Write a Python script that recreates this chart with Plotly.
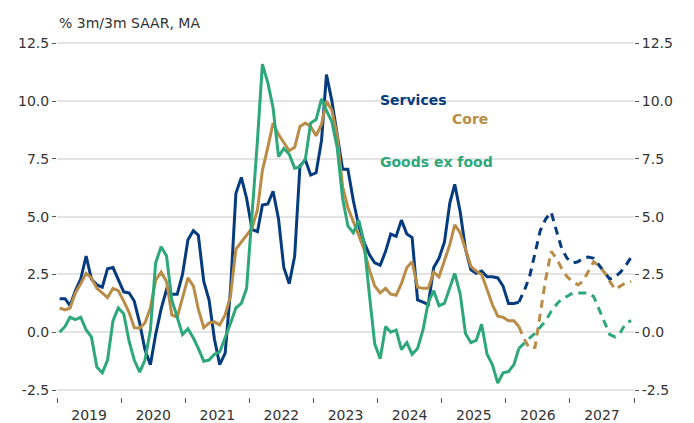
import pandas as pd
import plotly.graph_objects as go

# Monthly data, Jan 2019 .. Mar 2026 (actual), Apr 2026 .. Dec 2027 (forecast)
services_actual = [1.45, 1.45, 1.15, 1.8, 2.3, 3.3, 2.3, 2.05, 1.95, 2.75, 2.8, 2.3,
                   1.75, 1.7, 1.35, 0.4, -0.75, -1.4, -0.1, 1.0, 1.85, 1.65, 1.65, 2.5,
                   4.0, 4.4, 4.2, 2.2, 1.4, -0.3, -1.4, -0.9, 1.9, 6.0, 6.7, 5.8,
                   4.45, 4.35, 5.5, 5.55, 6.1, 4.9, 2.8, 2.1, 3.3, 7.2, 7.45, 6.8,
                   6.9, 8.3, 11.15, 10.0, 8.6, 7.05, 7.05, 5.7, 4.6, 3.9, 3.35, 3.0,
                   2.9, 3.5, 4.25, 4.15, 4.85, 4.25, 4.1, 1.4, 1.3, 1.2, 2.8, 3.2,
                   3.9, 5.6, 6.4, 5.2, 3.6, 2.7, 2.55, 2.65, 2.4, 2.4, 2.35, 2.0,
                   1.25, 1.25, 1.3]
services_forecast = [1.8, 2.4, 3.4, 4.4, 4.9, 5.2, 4.4, 3.6, 3.2, 3.0, 3.05, 3.2,
                     3.25, 3.2, 2.9, 2.6, 2.3, 2.4, 2.6, 2.9, 3.25]

core_actual = [1.05, 0.97, 1.05, 1.7, 2.1, 2.55, 2.35, 1.9, 1.7, 1.5, 1.9, 1.8,
               1.35, 0.85, 0.2, 0.18, 0.4, 1.05, 2.25, 2.6, 2.2, 0.75, 0.65, 1.5,
               2.35, 2.0, 1.0, 0.2, 0.4, 0.45, 0.32, 0.75, 1.6, 3.6, 3.9, 4.15,
               4.5, 5.3, 7.0, 8.0, 9.05, 8.55, 8.2, 7.85, 8.0, 8.9, 9.05, 8.9,
               8.5, 9.0, 10.0, 9.6, 8.5, 6.3, 5.4, 4.8, 4.2, 3.6, 2.7, 2.0,
               1.7, 1.9, 1.65, 1.6, 2.1, 2.8, 3.05, 1.95, 1.9, 1.9, 2.6, 2.4,
               3.1, 3.8, 4.65, 4.3, 3.6, 2.85, 2.65, 2.5, 1.85, 1.2, 0.7, 0.65,
               0.5, 0.5, 0.25]
core_forecast = [-0.3, -0.7, -0.65, 0.8, 2.3, 3.5, 3.2, 2.75, 2.4, 2.2, 2.05, 2.2,
                 2.6, 3.05, 2.85, 2.6, 2.2, 1.85, 2.0, 2.15, 2.2]

goods_actual = [0.0, 0.25, 0.65, 0.55, 0.65, 0.1, -0.2, -1.5, -1.75, -1.2, 0.5, 1.05,
                0.8, -0.4, -1.2, -1.72, -1.2, 0.1, 3.0, 3.7, 3.3, 1.4, 0.65, -0.1,
                0.15, -0.25, -0.7, -1.25, -1.2, -0.95, -0.85, -0.25, 0.4, 1.05, 1.25, 1.9,
                5.0, 8.3, 11.6, 10.8, 9.7, 7.6, 7.95, 7.7, 7.1, 7.15, 7.5, 9.05,
                9.2, 10.1, 9.6, 9.1, 8.0, 5.8, 4.6, 4.3, 4.85, 3.9, 1.6, -0.5,
                -1.15, 0.25, 0.0, 0.1, -0.75, -0.45, -0.95, -0.7, 0.1, 1.3, 1.8, 1.15,
                1.25, 1.9, 2.55, 1.65, -0.05, -0.45, -0.35, 0.35, -0.95, -1.4, -2.2, -1.75,
                -1.7, -1.4, -0.7]
goods_forecast = [-0.45, -0.25, -0.05, 0.2, 0.5, 0.9, 1.2, 1.45, 1.55, 1.7, 1.7, 1.7,
                  1.7, 1.55, 1.0, 0.4, -0.1, -0.2, 0.0, 0.4, 0.5]

y_ticks = [-2.5, 0.0, 2.5, 5.0, 7.5, 10.0, 12.5]

n_act = len(services_actual)
n_fc = len(services_forecast)
dates = pd.date_range("2019-01-01", periods=n_act + n_fc, freq="MS") + pd.Timedelta(days=15)
d_act = dates[:n_act]
d_fc = dates[n_act - 1:]

NAVY = "#063b7e"
TAN = "#b98c47"
GREEN = "#2ea77a"
FONT = "DejaVu Sans, Arial, sans-serif"
TXT = "#333333"

fig = go.Figure()
series = [
    ("Services", services_actual, services_forecast, NAVY),
    ("Core", core_actual, core_forecast, TAN),
    ("Goods ex food", goods_actual, goods_forecast, GREEN),
]
for name, act, fc, col in series:
    fig.add_trace(go.Scatter(x=d_act, y=act, mode="lines", name=name,
                             line=dict(color=col, width=3), showlegend=False))
    fig.add_trace(go.Scatter(x=d_fc, y=[act[-1]] + fc, mode="lines", name=name + " forecast",
                             line=dict(color=col, width=3, dash="8px,6px"), showlegend=False))

# invisible trace for the right axis
fig.add_trace(go.Scatter(x=[dates[0]], y=[0], yaxis="y2", mode="markers",
                         marker=dict(opacity=0), showlegend=False, hoverinfo="skip"))

yr = [-2.8, 12.6]
fig.update_layout(
    width=686, height=415,
    margin=dict(l=49, r=60, t=33, b=26),
    paper_bgcolor="white", plot_bgcolor="white",
    font=dict(family=FONT, size=14, color=TXT),
    xaxis=dict(type="date", range=["2019-01-01", "2028-01-01"],
               tick0="2019-01-01", dtick="M12", tickformat="%Y",
               ticklabelmode="period",
               ticks="outside", ticklen=5, tickcolor="#555555", tickwidth=1,
               showgrid=False, zeroline=False, showline=False, automargin=False,
               tickfont=dict(size=14, color=TXT)),
    yaxis=dict(range=yr, tickvals=y_ticks, ticktext=[f"{v:.1f}" for v in y_ticks],
               ticks="outside", ticklen=4, tickcolor="#555555",
               showgrid=True, gridcolor="#e4e4e4", gridwidth=1.5,
               zeroline=False, showline=False, automargin=False,
               tickfont=dict(size=14, color=TXT)),
    yaxis2=dict(range=yr, tickvals=y_ticks, ticktext=[f"{v:.1f}" for v in y_ticks],
                overlaying="y", side="right",
                ticks="outside", ticklen=4, tickcolor="#555555",
                showgrid=False, zeroline=False, showline=False, automargin=False,
                tickfont=dict(size=14, color=TXT)),
)

fig.add_annotation(text="% 3m/3m SAAR, MA", xref="paper", yref="paper", x=0, y=1.05,
                   xanchor="left", yanchor="middle", showarrow=False,
                   font=dict(size=14, color=TXT))
fig.add_annotation(text="<b>Services</b>", x="2024-01-03", y=10.06, xanchor="left",
                   yanchor="middle", showarrow=False, font=dict(size=14, color=NAVY))
fig.add_annotation(text="<b>Core</b>", x="2025-02-17", y=9.24, xanchor="left",
                   yanchor="middle", showarrow=False, font=dict(size=14, color=TAN))
fig.add_annotation(text="<b>Goods ex food</b>", x="2024-01-03", y=7.38, xanchor="left",
                   yanchor="middle", showarrow=False, font=dict(size=14, color=GREEN))

fig.write_html("out.html")
